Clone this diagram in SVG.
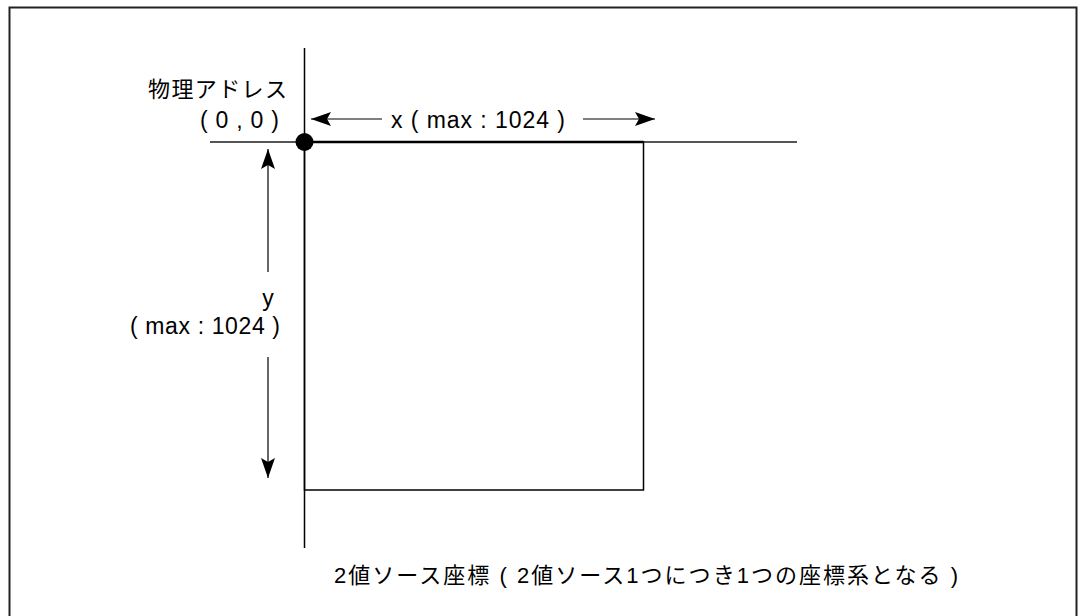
<svg xmlns="http://www.w3.org/2000/svg" width="1080" height="616" viewBox="0 0 1080 616">
  <style>
    .lbl { font-family: "Liberation Sans", "Noto Sans CJK JP", sans-serif; font-size: 23px; fill: #000; }
    .jp { font-family: "Liberation Sans", "Noto Sans CJK JP", sans-serif; font-size: 22px; fill: #000; }
    .arrow { stroke: #000; stroke-width: 1.2; fill: none; marker-end: url(#ah); }
  </style>
  <defs>
    <marker id="ah" markerUnits="userSpaceOnUse" markerWidth="24" markerHeight="16" viewBox="-22 -8 24 16" refX="0" refY="0" orient="auto">
      <path d="M0,0 L-20,-7 L-16,0 L-20,7 Z" fill="#000"/>
    </marker>
  </defs>
  <rect width="1080" height="616" fill="#fff"/>
  <g id="frame">
    <rect x="9.5" y="7.5" width="1067" height="630" fill="none" stroke="#222" stroke-width="2"/>
  </g>
  <g id="axes">
    <line x1="210" y1="142" x2="797" y2="142" stroke="#555" stroke-width="2"/>
    <line x1="304.5" y1="48" x2="304.5" y2="548" stroke="#000" stroke-width="1.5"/>
  </g>
  <g id="source-area">
    <rect x="304.5" y="142" width="339" height="348" fill="none" stroke="#000" stroke-width="1.5"/>
    <line x1="304.5" y1="142" x2="643.5" y2="142" stroke="#000" stroke-width="2.5"/>
  </g>
  <g id="origin">
    <circle cx="304.5" cy="142" r="9" fill="#000"/>
  </g>
  <g id="connectors">
    <line class="arrow" x1="382" y1="119" x2="311" y2="119"/>
    <line class="arrow" x1="583" y1="119" x2="655" y2="119"/>
    <line class="arrow" x1="268" y1="272" x2="268" y2="149"/>
    <line class="arrow" x1="268" y1="357" x2="268" y2="478"/>
  </g>
  <g id="label-origin">
    <text class="jp" x="148" y="97" font-size="23" textLength="139" lengthAdjust="spacing">物理アドレス</text>
    <text class="lbl" x="200" y="128" textLength="79" lengthAdjust="spacing" xml:space="preserve">( 0 , 0 )</text>
  </g>
  <g id="label-x">
    <text class="lbl" x="391" y="128" textLength="174" lengthAdjust="spacing" xml:space="preserve">x ( max : 1024 )</text>
  </g>
  <g id="label-y">
    <text class="lbl" x="268" y="306" text-anchor="middle">y</text>
    <text class="lbl" x="130" y="334" textLength="150" lengthAdjust="spacing" xml:space="preserve">( max : 1024 )</text>
  </g>
  <g id="caption">
    <text class="jp" x="334" y="583" textLength="624" lengthAdjust="spacing" xml:space="preserve">2値ソース座標 ( 2値ソース1つにつき1つの座標系となる )</text>
  </g>
</svg>
